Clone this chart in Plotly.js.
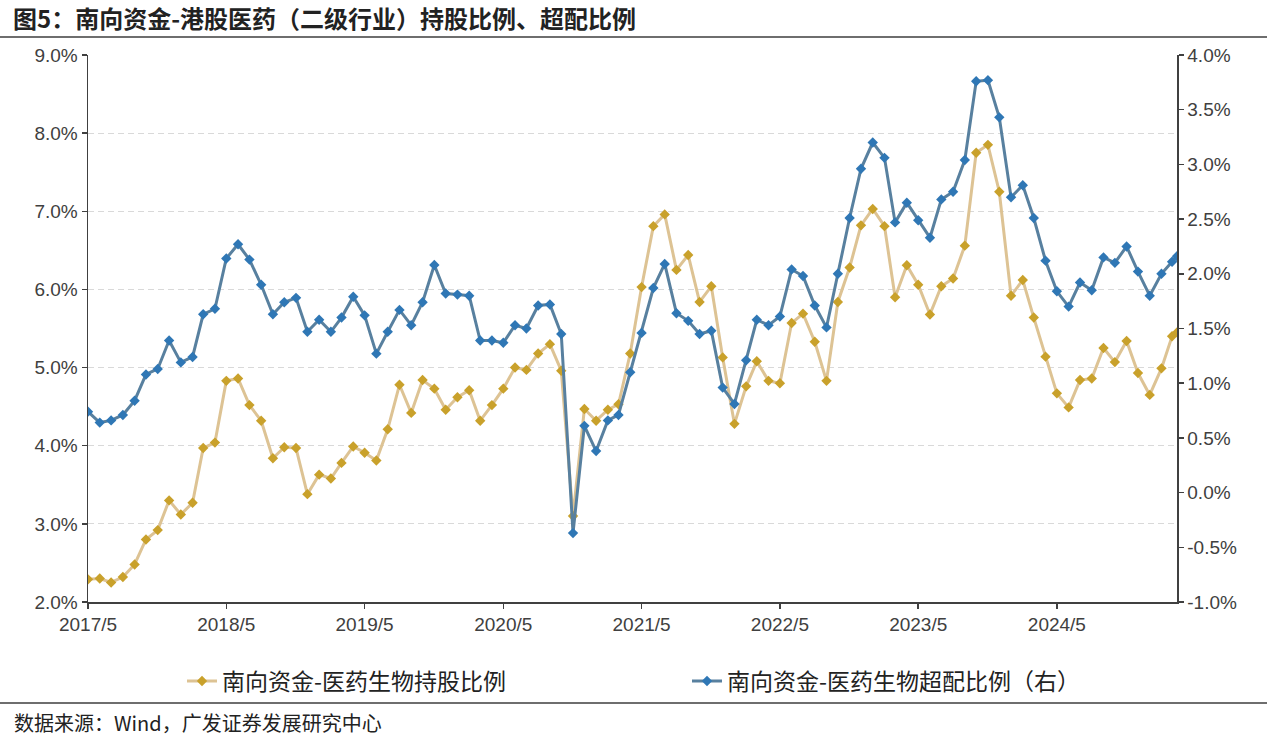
<!DOCTYPE html>
<html>
<head>
<meta charset="utf-8">
<script src="https://cdn.plot.ly/plotly-3.0.1.min.js"></script>
<style>
  html, body { margin: 0; padding: 0; background: #fff; }
  #chart { width: 1267px; height: 737px; }
</style>
</head>
<body>
<div id="chart"></div>
<script>
// Month dates (last point is a mid-month reading)
const dates = [
  '2017-05','2017-06','2017-07','2017-08','2017-09','2017-10','2017-11','2017-12',
  '2018-01','2018-02','2018-03','2018-04','2018-05','2018-06','2018-07','2018-08','2018-09','2018-10','2018-11','2018-12',
  '2019-01','2019-02','2019-03','2019-04','2019-05','2019-06','2019-07','2019-08','2019-09','2019-10','2019-11','2019-12',
  '2020-01','2020-02','2020-03','2020-04','2020-05','2020-06','2020-07','2020-08','2020-09','2020-10','2020-11','2020-12',
  '2021-01','2021-02','2021-03','2021-04','2021-05','2021-06','2021-07','2021-08','2021-09','2021-10','2021-11','2021-12',
  '2022-01','2022-02','2022-03','2022-04','2022-05','2022-06','2022-07','2022-08','2022-09','2022-10','2022-11','2022-12',
  '2023-01','2023-02','2023-03','2023-04','2023-05','2023-06','2023-07','2023-08','2023-09','2023-10','2023-11','2023-12',
  '2024-01','2024-02','2024-03','2024-04','2024-05','2024-06','2024-07','2024-08','2024-09','2024-10','2024-11','2024-12',
  '2025-01','2025-02','2025-03','2025-03-14'
];

// 南向资金-医药生物持股比例 (%), left axis
const holdingRatio = [
  2.29,2.30,2.25,2.32,2.48,2.80,2.92,3.30,
  3.12,3.27,3.97,4.04,4.83,4.86,4.52,4.32,3.84,3.98,3.97,3.38,
  3.63,3.58,3.78,3.99,3.91,3.81,4.21,4.78,4.42,4.84,4.73,4.46,
  4.62,4.71,4.32,4.52,4.73,5.00,4.97,5.18,5.30,4.96,3.10,4.47,
  4.32,4.46,4.53,5.18,6.03,6.81,6.96,6.25,6.44,5.84,6.04,5.13,
  4.28,4.76,5.08,4.83,4.80,5.57,5.69,5.33,4.83,5.84,6.28,6.82,
  7.03,6.81,5.90,6.31,6.06,5.68,6.04,6.14,6.56,7.75,7.85,7.25,
  5.92,6.12,5.64,5.14,4.67,4.49,4.84,4.86,5.25,5.07,5.34,4.93,
  4.65,4.99,5.40,5.45
];

// 南向资金-医药生物超配比例 (%), right axis
const overweightRatio = [
  0.74,0.64,0.66,0.71,0.84,1.08,1.13,1.39,
  1.19,1.24,1.63,1.68,2.14,2.27,2.13,1.90,1.63,1.74,1.78,1.47,
  1.58,1.47,1.60,1.79,1.62,1.27,1.47,1.67,1.53,1.74,2.08,1.82,
  1.81,1.80,1.39,1.39,1.37,1.53,1.50,1.71,1.72,1.45,-0.37,0.61,
  0.38,0.66,0.71,1.10,1.46,1.87,2.09,1.64,1.57,1.45,1.48,0.96,
  0.81,1.21,1.58,1.53,1.61,2.04,1.98,1.71,1.51,2.00,2.51,2.96,
  3.20,3.06,2.47,2.65,2.49,2.33,2.68,2.75,3.04,3.76,3.77,3.43,
  2.70,2.81,2.51,2.12,1.84,1.70,1.92,1.85,2.15,2.10,2.25,2.02,
  1.80,2.00,2.11,2.16
];

const xTickVals = ['2017-05','2018-05','2019-05','2020-05','2021-05','2022-05','2023-05','2024-05'];
const xTickText = ['2017/5','2018/5','2019/5','2020/5','2021/5','2022/5','2023/5','2024/5'];
const yTickVals = [2,3,4,5,6,7,8,9];
const yTickText = ['2.0%','3.0%','4.0%','5.0%','6.0%','7.0%','8.0%','9.0%'];
const y2TickVals = [-1,-0.5,0,0.5,1,1.5,2,2.5,3,3.5,4];
const y2TickText = ['-1.0%','-0.5%','0.0%','0.5%','1.0%','1.5%','2.0%','2.5%','3.0%','3.5%','4.0%'];

const seriesNames = ['南向资金-医药生物持股比例','南向资金-医药生物超配比例（右）'];
const titleText = '图5：南向资金-港股医药（二级行业）持股比例、超配比例';
const sourceText = '数据来源：Wind，广发证券发展研究中心';

const cjk = '"Noto Sans CJK SC", "Noto Sans", sans-serif';
const latin = '"Liberation Sans", Arial, sans-serif';

const traces = [
  {
    x: dates, y: holdingRatio, name: seriesNames[0],
    type: 'scatter', mode: 'lines+markers', yaxis: 'y',
    line: { color: '#DDC394', width: 3 },
    marker: { symbol: 'diamond', size: 8, color: '#C9A12B' }
  },
  {
    x: dates, y: overweightRatio, name: seriesNames[1],
    type: 'scatter', mode: 'lines+markers', yaxis: 'y2',
    line: { color: '#58809F', width: 3 },
    marker: { symbol: 'diamond', size: 8, color: '#2F77B5' }
  }
];

const axisCommon = {
  showline: true, linecolor: '#404040', linewidth: 1.5,
  ticks: 'outside', ticklen: 5, tickcolor: '#404040', tickwidth: 1.5,
  tickfont: { family: latin, size: 19, color: '#404040' },
  zeroline: false, fixedrange: true
};

const L = 88, R = 1177, T = 55, B = 602;
const pw = R - L, ph = B - T;
const px = v => (v - L) / pw;
const py = v => (B - v) / ph;

const layout = {
  width: 1267, height: 737,
  margin: { l: L, r: 1267 - R, t: T, b: 737 - B },
  paper_bgcolor: '#ffffff', plot_bgcolor: '#ffffff',
  showlegend: true,
  title: {
    text: titleText,
    xref: 'container', yref: 'container',
    x: 13 / 1267, xanchor: 'left',
    y: 1 - 20 / 737, yanchor: 'middle',
    font: { family: cjk, size: 24, color: '#222222', weight: 700 }
  },
  xaxis: Object.assign({}, axisCommon, {
    type: 'date',
    range: [dates[0], dates[dates.length - 1]],
    tickmode: 'array', tickvals: xTickVals, ticktext: xTickText,
    showgrid: false
  }),
  yaxis: Object.assign({}, axisCommon, {
    range: [2, 9],
    tickmode: 'array', tickvals: yTickVals, ticktext: yTickText,
    showgrid: true, gridcolor: '#D9D9D9', gridwidth: 1, griddash: '6px,4px'
  }),
  yaxis2: Object.assign({}, axisCommon, {
    overlaying: 'y', side: 'right',
    range: [-1, 4],
    tickmode: 'array', tickvals: y2TickVals, ticktext: y2TickText,
    showgrid: false
  }),
  legend: {
    orientation: 'h',
    xref: 'container', yref: 'container',
    x: 182 / 1267, xanchor: 'left',
    y: 1 - 681 / 737, yanchor: 'middle',
    entrywidth: 460, entrywidthmode: 'pixels',
    font: { family: cjk, size: 23, color: '#222222' },
    bgcolor: 'rgba(0,0,0,0)'
  },
  shapes: [
    { type: 'line', xref: 'paper', yref: 'paper',
      x0: px(0), x1: px(1267), y0: py(37), y1: py(37),
      line: { color: '#6E6E6E', width: 2 } },
    { type: 'line', xref: 'paper', yref: 'paper',
      x0: px(0), x1: px(1267), y0: py(703), y1: py(703),
      line: { color: '#6E6E6E', width: 2 } }
  ],
  annotations: [
    { text: sourceText, xref: 'paper', yref: 'paper',
      x: px(12), xanchor: 'left', y: py(722), yanchor: 'middle',
      showarrow: false,
      font: { family: cjk, size: 20, color: '#222222' } }
  ]
};

Plotly.newPlot('chart', traces, layout, { displayModeBar: false, staticPlot: true });
</script>
</body>
</html>
